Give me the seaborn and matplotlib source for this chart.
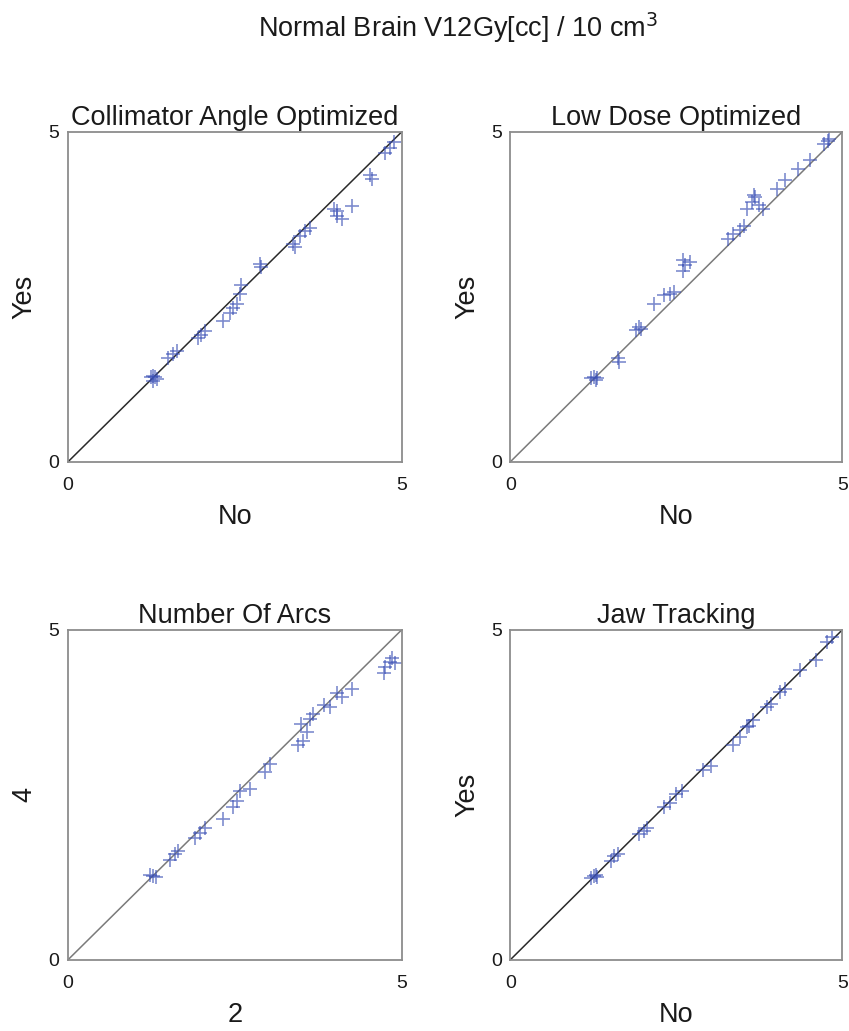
import matplotlib
matplotlib.use("Agg")
import matplotlib.pyplot as plt
import seaborn as sns
import pandas as pd

# values (No on x, Yes on y)
titles = ["Collimator Angle Optimized", "Low Dose Optimized", "Number Of Arcs", "Jaw Tracking"]
xlabels = ["No", "No", "2", "No"]
ylabels = ["Yes", "Yes", "4", "Yes"]

x1 = [1.25, 1.28, 1.30, 1.33, 1.27, 1.50, 1.58, 1.63, 1.95, 2.00, 2.05, 2.33, 2.43, 2.48, 2.53,
      2.58, 2.60, 2.88, 2.90, 3.38, 3.40, 3.48, 3.55, 3.63, 3.98, 4.03, 4.03, 4.10, 4.25,
      4.53, 4.55, 4.75, 4.83, 4.88]
y1 = [1.28, 1.30, 1.28, 1.25, 1.23, 1.58, 1.63, 1.68, 1.88, 1.93, 1.98, 2.13, 2.25, 2.33, 2.40,
      2.55, 2.68, 3.00, 2.95, 3.30, 3.25, 3.43, 3.50, 3.55, 3.83, 3.80, 3.73, 3.68, 3.88,
      4.35, 4.28, 4.68, 4.75, 4.85]

x2 = [1.22, 1.26, 1.29, 1.30, 1.62, 1.64, 1.89, 1.94, 1.97, 2.17, 2.32, 2.40, 2.47,
      2.60, 2.60, 2.63, 2.70, 3.28, 3.36, 3.46, 3.52, 3.56, 3.64, 3.69, 3.67, 3.74, 3.80,
      4.02, 4.14, 4.34, 4.52, 4.72, 4.78, 4.80]
y2 = [1.27, 1.29, 1.24, 1.27, 1.57, 1.52, 2.00, 2.05, 2.02, 2.40, 2.53, 2.55, 2.58,
      2.90, 3.06, 2.98, 3.03, 3.38, 3.46, 3.51, 3.58, 3.84, 3.94, 4.02, 4.05, 3.89, 3.84,
      4.14, 4.27, 4.44, 4.57, 4.82, 4.86, 4.90]

x3 = [1.23, 1.28, 1.32, 1.53, 1.60, 1.65, 1.90, 1.98, 2.05, 2.33, 2.48, 2.53, 2.58, 2.73,
      2.95, 3.03, 3.45, 3.53, 3.58, 3.50, 3.63, 3.68, 3.83, 3.93, 4.03, 4.10, 4.25,
      4.73, 4.75, 4.83, 4.85, 4.90]
y3 = [1.28, 1.27, 1.25, 1.52, 1.60, 1.65, 1.85, 1.93, 2.00, 2.13, 2.31, 2.41, 2.56, 2.59,
      2.84, 2.97, 3.25, 3.32, 3.45, 3.58, 3.65, 3.73, 3.86, 3.83, 4.04, 3.98, 4.11,
      4.34, 4.44, 4.52, 4.57, 4.50]

x4 = [1.22, 1.26, 1.29, 1.30, 1.52, 1.57, 1.62, 1.94, 2.02, 2.06, 2.32, 2.40, 2.50, 2.58,
      2.90, 3.03, 3.36, 3.46, 3.56, 3.66, 3.60, 3.86, 3.93, 4.07, 4.14, 4.37, 4.60, 4.77, 4.85]
y4 = [1.24, 1.27, 1.29, 1.26, 1.50, 1.57, 1.60, 1.90, 1.95, 2.00, 2.31, 2.38, 2.51, 2.56,
      2.87, 2.94, 3.25, 3.38, 3.53, 3.63, 3.55, 3.83, 3.88, 4.06, 4.10, 4.39, 4.54, 4.82, 4.90]

xs = [x1, x2, x3, x4]
ys = [y1, y2, y3, y4]
line_colors = ["#2a2a2a", "#7a7a7a", "#7a7a7a", "#2a2a2a"]

sns.set_style("white")
plt.rcParams['font.family'] = ['Liberation Sans', 'DejaVu Sans']
plt.rcParams['text.color'] = '#1a1a1a'
plt.rcParams['axes.labelcolor'] = '#1a1a1a'
plt.rcParams['xtick.color'] = '#1a1a1a'
plt.rcParams['ytick.color'] = '#1a1a1a'

fig = plt.figure(figsize=(8.49, 10.31), dpi=100)
positions = [[0.080, 0.552, 0.393, 0.320], [0.601, 0.552, 0.391, 0.320],
             [0.080, 0.069, 0.393, 0.320], [0.601, 0.069, 0.391, 0.320]]

for i in range(4):
    ax = fig.add_axes(positions[i])
    df = pd.DataFrame({"No": xs[i], "Yes": ys[i]})
    ax.axline((0, 0), slope=1, color=line_colors[i], lw=1.1, zorder=1)
    sns.scatterplot(data=df, x="No", y="Yes", marker="+", s=90, color="#3a4fb5",
                    alpha=0.65, linewidth=1.2, ax=ax, zorder=2)
    ax.set_xlim(0, 5)
    ax.set_ylim(0, 5)
    ax.set_xticks([0, 5])
    ax.set_yticks([0, 5])
    ax.tick_params(length=0, labelsize=14)
    ax.tick_params(axis="x", pad=11)
    ax.tick_params(axis="y", pad=6)
    ax.set_title(titles[i], fontsize=19.5, pad=5)
    ax.set_xlabel(xlabels[i], fontsize=19.5, labelpad=7)
    ax.set_ylabel(ylabels[i], fontsize=19.5, labelpad=8)
    for sp in ax.spines.values():
        sp.set_color("#8c8c8c")
        sp.set_linewidth(1.3)

fig.text(0.54, 0.973, "Normal Brain V12Gy[cc] / 10 cm$^3$", ha="center", va="center", fontsize=19.5)

plt.savefig("out.png", dpi=100)
